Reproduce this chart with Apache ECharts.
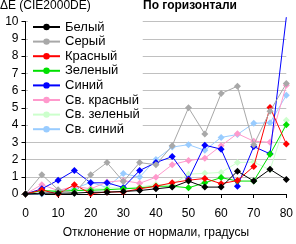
<!DOCTYPE html>
<html><head><meta charset="utf-8">
<script src="https://cdn.jsdelivr.net/npm/echarts@6/dist/echarts.min.js"></script>
<style>html,body{margin:0;padding:0;background:#fff}#c{width:296px;height:244px}</style>
</head><body><div id="c"></div>
<script>
var degrees = [0,5,10,15,20,25,30,35,40,45,50,55,60,65,70,75,80];
var seriesNames = ['Белый','Серый','Красный','Зеленый','Синий','Св. красный','Св. зеленый','Св. синий'];
var belyi     = [0,0.05,0.05,0.05,0.1,0.1,0.15,0.2,0.3,0.4,0.75,0.4,0.4,1.32,0.75,1.43,0.84];
var seryi     = [0,1.12,0.25,0.05,1.12,1.82,0.72,1.82,1.7,2.8,5.0,3.48,5.82,6.25,2.85,4.8,6.4];
var krasnyi   = [0,0.23,0,0.54,0.02,0.12,0.12,0.3,0.45,0.65,0.8,0.9,0.6,0.78,1.6,5.02,2.9];
var zelenyi   = [0,0.2,0.15,0.2,0.22,0.25,0.3,0.35,0.45,0.45,0.36,0.65,0.95,0.75,0.75,2.3,4.02];
var sinii     = [0,0.3,0.8,1.36,0.65,0.65,0.38,1.36,1.82,2.17,0.87,2.83,2.6,0.45,2.75,2.33,10.25];
var svKrasnyi = [0,0.54,0.2,0.45,0.3,0.69,0.78,0.62,0.97,1.7,1.94,2.07,2.8,3.5,3.06,3.0,6.3];
var svZelenyi = [0,0.2,0.2,0.2,0.3,0.35,0.35,0.4,0.55,0.55,1.15,1.2,1.25,1.82,1.85,1.4,4.28];
var svSinii   = [0,0,0.18,0.3,0.68,0.38,1.19,0.98,2.0,2.72,2.86,2.53,3.28,3.45,4.1,4.13,5.72];
var yTicks = [0,1,2,3,4,5,6,7,8,9,10];
var xTicks = [0,10,20,30,40,50,60,70,80];

var allValues = [belyi,seryi,krasnyi,zelenyi,sinii,svKrasnyi,svZelenyi,svSinii];
var colors = ['#000000','#a8a8a8','#ff0000','#00e000','#0000ff','#ff99cc','#ccffcc','#99ccff'];
var FONT = 'Liberation Sans, Arial, sans-serif';
var Y_MAX = 10;

var series = seriesNames.map(function(n,i){
  return {
    name:n, type:'line', clip:false,
    data: degrees.map(function(d,j){return [d, allValues[i][j]];}),
    symbol:function(v){ return v[1] > Y_MAX ? 'none' : 'diamond'; },
    symbolSize:7,
    lineStyle:{color:colors[i], width:1},
    itemStyle:{color:colors[i]},
    z: 2 + (8-i)*0.1,
    animation:false
  };
});

var chart = echarts.init(document.getElementById('c'), null, {renderer:'canvas'});
chart.setOption({
  animation:false,
  backgroundColor:'#fff',
  textStyle:{fontFamily:FONT},
  title:[
    {text:'ΔE (CIE2000DE)', left:0, top:0, padding:0,
     textStyle:{fontSize:12, fontWeight:'normal', color:'#000', fontFamily:FONT}},
    {text:'По горизонтали', left:143, top:0, padding:0,
     textStyle:{fontSize:12, fontWeight:'bold', color:'#000', fontFamily:FONT}}
  ],
  grid:{left:25.5, right:6, top:21.5, bottom:41.5},
  legend:{
    orient:'vertical', left:28, top:18, itemWidth:27, itemHeight:8, itemGap:0.6,
    backgroundColor:'#fff', padding:[2,3,2,4],
    textStyle:{fontSize:13, color:'#000', fontFamily:FONT, lineHeight:14},
    data:seriesNames
  },
  xAxis:{
    type:'value', min:0, max:80, interval:10,
    name:'Отклонение от нормали, градусы', nameLocation:'middle', nameGap:33,
    nameTextStyle:{fontSize:12, color:'#000', fontFamily:FONT},
    axisLine:{lineStyle:{color:'#000', width:1}},
    axisTick:{show:true, length:4, lineStyle:{color:'#000'}},
    axisLabel:{fontSize:12, color:'#000', margin:14, fontFamily:FONT,
      formatter:function(v){return xTicks.indexOf(v)>=0 ? String(v) : '';}},
    splitLine:{show:false}
  },
  yAxis:{
    type:'value', min:0, max:Y_MAX, interval:1,
    axisLine:{show:true, lineStyle:{color:'#000', width:1}},
    axisTick:{show:true, length:4, lineStyle:{color:'#000'}},
    axisLabel:{fontSize:12, color:'#000', margin:7, fontFamily:FONT,
      formatter:function(v){return yTicks.indexOf(v)>=0 ? String(v) : '';}},
    splitLine:{show:true, lineStyle:{color:'#c0c0c0', width:1}}
  },
  series:series
});
</script></body></html>
